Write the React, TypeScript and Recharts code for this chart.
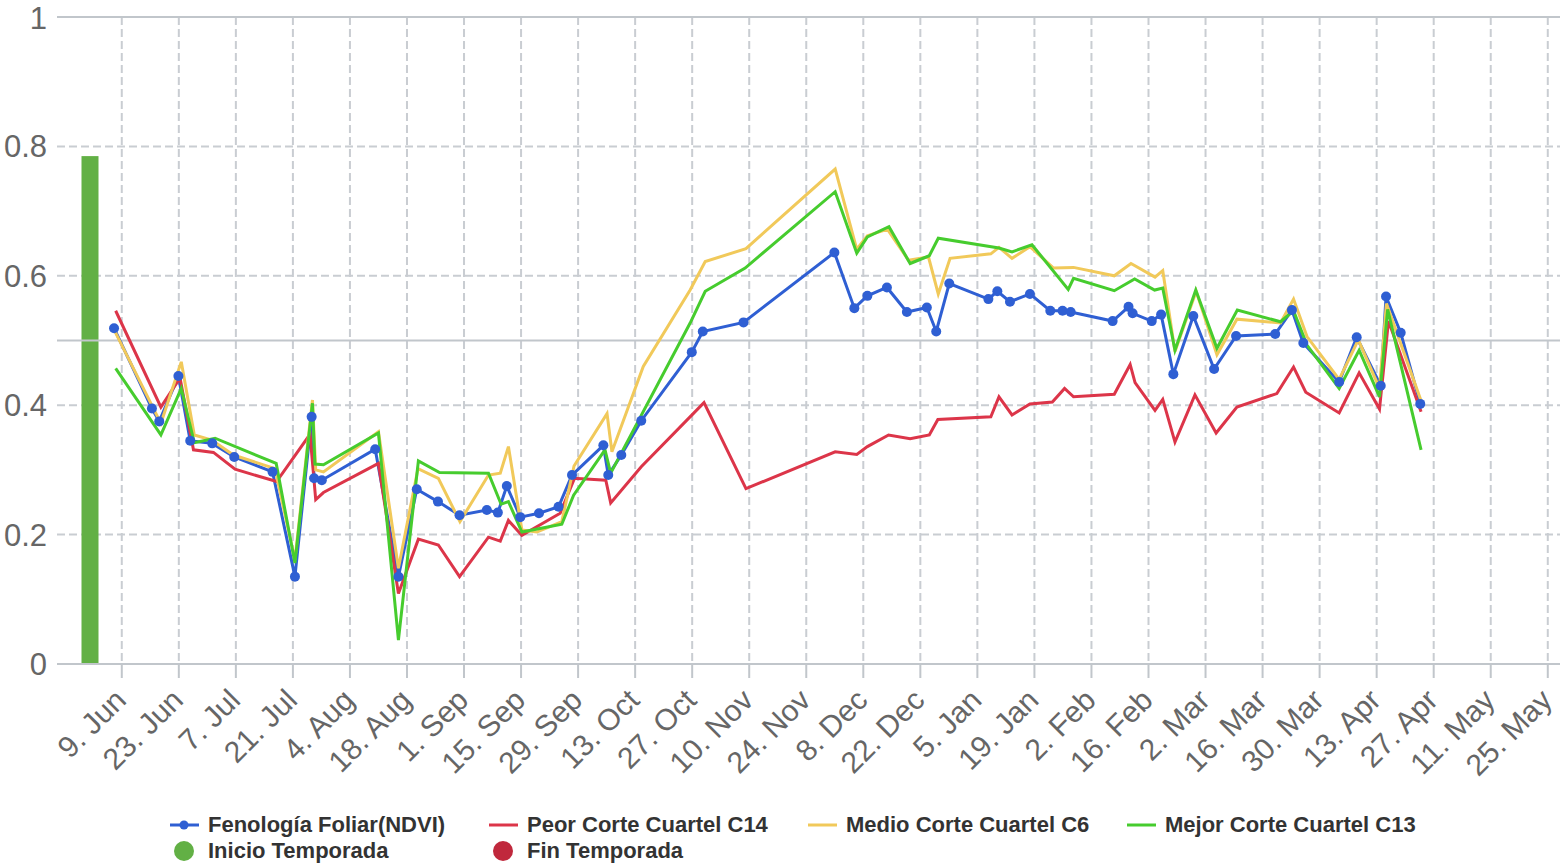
import React from "react";
import {
  ComposedChart,
  Line,
  Bar,
  XAxis,
  YAxis,
  CartesianGrid,
  ReferenceLine,
  Legend,
} from "recharts";

// x values are days counted from 9 Jun
const TICK_DAYS = [0, 14, 28, 42, 56, 70, 84, 98, 112, 126, 140, 154, 168, 182, 196, 210, 224, 238, 252, 266, 280, 294, 308, 322, 336, 350];
const TICK_LABELS = ["9. Jun", "23. Jun", "7. Jul", "21. Jul", "4. Aug", "18. Aug", "1. Sep", "15. Sep", "29. Sep", "13. Oct", "27. Oct", "10. Nov", "24. Nov", "8. Dec", "22. Dec", "5. Jan", "19. Jan", "2. Feb", "16. Feb", "2. Mar", "16. Mar", "30. Mar", "13. Apr", "27. Apr", "11. May", "25. May"];
const Y_TICKS = [0, 0.2, 0.4, 0.6, 0.8, 1];

const NDVI: [number, number][] = [
  [-1.9, 0.519], [7.4, 0.395], [9.2, 0.375], [13.9, 0.445], [16.8, 0.345], [22.2, 0.341], [27.6, 0.32], [37.0, 0.297],
  [42.5, 0.135], [46.6, 0.382], [47.2, 0.287], [49.1, 0.284], [62.2, 0.332], [67.9, 0.135], [72.4, 0.27], [77.6, 0.251],
  [82.9, 0.23], [89.6, 0.238], [92.3, 0.234], [94.5, 0.275], [97.8, 0.227], [102.4, 0.233], [107.2, 0.243], [110.5, 0.292],
  [118.2, 0.338], [119.4, 0.292], [122.6, 0.323], [127.5, 0.376], [139.9, 0.482], [142.6, 0.514], [152.6, 0.528],
  [174.9, 0.636], [179.8, 0.55], [183.0, 0.569], [187.8, 0.582], [192.7, 0.544], [197.6, 0.551], [199.9, 0.514],
  [203.1, 0.588], [212.7, 0.564], [214.9, 0.576], [218.0, 0.56], [222.9, 0.572], [227.9, 0.546], [230.9, 0.546],
  [232.9, 0.544], [243.2, 0.53], [247.1, 0.552], [248.1, 0.542], [252.8, 0.53], [255.1, 0.54], [258.1, 0.448],
  [263.0, 0.538], [268.1, 0.456], [273.5, 0.507], [283.1, 0.51], [287.2, 0.547], [290.0, 0.496], [298.8, 0.436],
  [303.1, 0.505], [309.0, 0.43], [310.3, 0.568], [313.9, 0.512], [318.7, 0.402],
];

const PEOR_C14: [number, number][] = [
  [-1.5, 0.546], [9.6, 0.397], [14.3, 0.442], [17.6, 0.331], [22.5, 0.327], [27.8, 0.301], [38.0, 0.282], [46.2, 0.355],
  [47.6, 0.254], [49.5, 0.265], [63.0, 0.31], [67.9, 0.109], [72.8, 0.193], [77.7, 0.184], [82.9, 0.135], [90.0, 0.196],
  [92.9, 0.19], [94.9, 0.222], [98.2, 0.199], [107.6, 0.233], [111.1, 0.287], [118.8, 0.284], [120.0, 0.249],
  [127.5, 0.305], [142.9, 0.404], [153.2, 0.271], [175.1, 0.328], [180.4, 0.324], [183.0, 0.336], [188.2, 0.354],
  [193.5, 0.348], [198.2, 0.354], [200.3, 0.378], [213.3, 0.382], [215.3, 0.413], [218.5, 0.385], [222.9, 0.402],
  [228.4, 0.405], [231.4, 0.426], [233.6, 0.413], [243.6, 0.417], [247.5, 0.463], [248.7, 0.435], [253.6, 0.392],
  [255.5, 0.409], [258.5, 0.343], [263.4, 0.416], [268.6, 0.357], [273.7, 0.397], [283.5, 0.418], [287.6, 0.459],
  [290.6, 0.42], [298.8, 0.388], [303.7, 0.45], [308.7, 0.394], [310.9, 0.53], [318.9, 0.39],
];

const MEDIO_C6: [number, number][] = [
  [-1.6, 0.513], [9.6, 0.372], [14.6, 0.467], [17.8, 0.354], [22.1, 0.346], [27.4, 0.323], [37.6, 0.302], [42.5, 0.161],
  [46.8, 0.408], [47.6, 0.3], [49.5, 0.297], [63.0, 0.359], [67.9, 0.148], [72.7, 0.302], [77.7, 0.287], [83.0, 0.22],
  [90.0, 0.292], [92.9, 0.295], [94.9, 0.336], [98.2, 0.207], [101.9, 0.204], [108.0, 0.22], [111.0, 0.306],
  [119.1, 0.387], [120.3, 0.328], [128.0, 0.46], [139.5, 0.578], [143.2, 0.622], [153.2, 0.642], [175.1, 0.765],
  [180.4, 0.641], [183.0, 0.662], [187.9, 0.672], [193.1, 0.624], [198.0, 0.629], [200.4, 0.572], [203.3, 0.627],
  [213.3, 0.634], [215.3, 0.644], [218.5, 0.627], [222.9, 0.645], [228.7, 0.612], [233.6, 0.613], [243.6, 0.6],
  [247.7, 0.619], [253.6, 0.598], [255.5, 0.608], [258.5, 0.483], [263.7, 0.576], [268.8, 0.478], [273.7, 0.533],
  [284.4, 0.527], [287.6, 0.564], [290.9, 0.506], [298.8, 0.44], [303.5, 0.501], [308.7, 0.426], [310.4, 0.557],
  [318.9, 0.407],
];

const MEJOR_C13: [number, number][] = [
  [-1.5, 0.457], [9.6, 0.354], [14.6, 0.426], [17.8, 0.342], [22.9, 0.349], [37.9, 0.31], [42.5, 0.156], [46.8, 0.403],
  [47.4, 0.309], [49.5, 0.308], [63.0, 0.357], [67.9, 0.037], [72.8, 0.314], [78.0, 0.296], [90.0, 0.295], [93.1, 0.247],
  [94.9, 0.251], [98.2, 0.204], [108.0, 0.216], [110.9, 0.261], [118.6, 0.331], [120.0, 0.295], [139.5, 0.527],
  [143.2, 0.576], [153.0, 0.612], [175.1, 0.73], [180.4, 0.635], [183.0, 0.66], [188.3, 0.676], [193.5, 0.619],
  [198.2, 0.631], [200.4, 0.658], [215.3, 0.643], [218.5, 0.637], [223.4, 0.648], [232.3, 0.579], [233.6, 0.596],
  [243.6, 0.577], [248.6, 0.595], [253.5, 0.578], [255.5, 0.581], [258.5, 0.485], [263.6, 0.578], [268.8, 0.488],
  [273.8, 0.547], [284.4, 0.529], [287.6, 0.546], [290.9, 0.493], [298.8, 0.426], [303.7, 0.485], [308.7, 0.413],
  [310.7, 0.548], [318.9, 0.331],
];

// season start / end markers
const SEASON_X = [-7.8, 353];
const INICIO = [0.785, null];
const FIN = [null, null];

const COLORS = {
  ndvi: "#2f5fd3",
  peor: "#dc3549",
  medio: "#f1c95a",
  mejor: "#46cc2e",
  inicio: "#62b045",
  fin: "#c0283c",
};

const FONT = "'Liberation Sans', Arial, Helvetica, sans-serif";
const GRID = "#c9cdd2";
const AXIS = "#c1c6cb";
const BAR_WIDTH = 17;

const toPoints = (arr: [number, number][]) => arr.map(([x, v]) => ({ x, v }));
const seasonData = SEASON_X.map((x, i) => ({ x, inicio: INICIO[i], fin: FIN[i] }));

const XTick = (props: any) => {
  const { x, y, payload } = props;
  const idx = TICK_DAYS.indexOf(payload.value);
  const label = idx >= 0 ? TICK_LABELS[idx] : "";
  const ax = x + 6;
  const ay = y + 22;
  return (
    <text
      x={ax}
      y={ay}
      transform={`rotate(-45 ${ax} ${ay})`}
      textAnchor="end"
      fill="#666666"
      fontSize={30}
      fontFamily={FONT}
    >
      {label}
    </text>
  );
};

const makeBarShape = (color: string) => (p: any) => {
  if (p == null || p.height == null || !isFinite(p.height) || p.height <= 0) return <g />;
  const cx = p.x + p.width / 2;
  return <rect x={cx - BAR_WIDTH / 2} y={p.y} width={BAR_WIDTH} height={p.height} fill={color} />;
};

const LEGEND_ITEMS = [
  { label: "Fenología Foliar(NDVI)", color: COLORS.ndvi, kind: "linedot", left: 170, top: 812 },
  { label: "Peor Corte Cuartel C14", color: COLORS.peor, kind: "line", left: 489, top: 812 },
  { label: "Medio Corte Cuartel C6", color: COLORS.medio, kind: "line", left: 808, top: 812 },
  { label: "Mejor Corte Cuartel C13", color: COLORS.mejor, kind: "line", left: 1127, top: 812 },
  { label: "Inicio Temporada", color: COLORS.inicio, kind: "circle", left: 170, top: 838 },
  { label: "Fin Temporada", color: COLORS.fin, kind: "circle", left: 489, top: 838 },
];

const LegendContent = () => (
  <div style={{ position: "relative", width: 1567, height: 865 }}>
    {LEGEND_ITEMS.map((it) => (
      <div
        key={it.label}
        style={{
          position: "absolute",
          left: it.left,
          top: it.top,
          height: 26,
          display: "flex",
          alignItems: "center",
          fontFamily: FONT,
          fontWeight: 700,
          fontSize: 22,
          color: "#333333",
          whiteSpace: "nowrap",
        }}
      >
        <svg width={30} height={26} style={{ display: "block" }}>
          {it.kind === "circle" ? (
            <circle cx={14} cy={13} r={10} fill={it.color} />
          ) : (
            <>
              <line x1={0} x2={29} y1={13} y2={13} stroke={it.color} strokeWidth={3} />
              {it.kind === "linedot" && <circle cx={14} cy={13} r={4.5} fill={it.color} />}
            </>
          )}
        </svg>
        <span style={{ marginLeft: 8 }}>{it.label}</span>
      </div>
    ))}
  </div>
);

export default function App() {
  return (
    <div style={{ position: "absolute", left: 0, top: 0, width: 1567, height: 865, background: "#ffffff", overflow: "hidden" }}>
      <ComposedChart width={1567} height={865} data={seasonData} margin={{ top: 17, right: 7, bottom: 71, left: 0 }}>
        <CartesianGrid stroke={GRID} strokeWidth={2} strokeDasharray="8 4" syncWithTicks />
        <XAxis
          dataKey="x"
          type="number"
          domain={[-15.9, 353]}
          ticks={TICK_DAYS}
          allowDataOverflow
          interval={0}
          height={130}
          tick={<XTick />}
          tickSize={14}
          tickMargin={2}
          tickLine={{ stroke: AXIS, strokeWidth: 2 }}
          axisLine={{ stroke: AXIS, strokeWidth: 2 }}
        />
        <YAxis
          type="number"
          domain={[0, 1]}
          ticks={Y_TICKS}
          width={57}
          tickSize={0}
          tickMargin={10}
          axisLine={false}
          tickLine={false}
          tickFormatter={(v: number) => String(v)}
          tick={{ fill: "#666666", fontSize: 31, fontFamily: FONT }}
        />
        <ReferenceLine y={1} stroke={AXIS} strokeWidth={2} />
        <ReferenceLine y={0.5} stroke={AXIS} strokeWidth={2} />
        <Bar dataKey="inicio" stackId="season" fill={COLORS.inicio} shape={makeBarShape(COLORS.inicio)} isAnimationActive={false} name="Inicio Temporada" />
        <Bar dataKey="fin" stackId="season" fill={COLORS.fin} shape={makeBarShape(COLORS.fin)} isAnimationActive={false} name="Fin Temporada" />
        <Line
          data={toPoints(NDVI)}
          dataKey="v"
          name="Fenología Foliar(NDVI)"
          stroke={COLORS.ndvi}
          strokeWidth={3}
          dot={{ r: 5, fill: COLORS.ndvi, stroke: "none" }}
          activeDot={false}
          isAnimationActive={false}
          type="linear"
        />
        <Line
          data={toPoints(PEOR_C14)}
          dataKey="v"
          name="Peor Corte Cuartel C14"
          stroke={COLORS.peor}
          strokeWidth={3}
          dot={false}
          activeDot={false}
          isAnimationActive={false}
          type="linear"
        />
        <Line
          data={toPoints(MEDIO_C6)}
          dataKey="v"
          name="Medio Corte Cuartel C6"
          stroke={COLORS.medio}
          strokeWidth={3}
          dot={false}
          activeDot={false}
          isAnimationActive={false}
          type="linear"
        />
        <Line
          data={toPoints(MEJOR_C13)}
          dataKey="v"
          name="Mejor Corte Cuartel C13"
          stroke={COLORS.mejor}
          strokeWidth={3}
          dot={false}
          activeDot={false}
          isAnimationActive={false}
          type="linear"
        />
        <Legend
          layout="horizontal"
          verticalAlign="middle"
          align="center"
          content={<LegendContent />}
          wrapperStyle={{ left: 0, top: 0, width: 1567, height: 865, pointerEvents: "none" }}
        />
      </ComposedChart>
    </div>
  );
}
